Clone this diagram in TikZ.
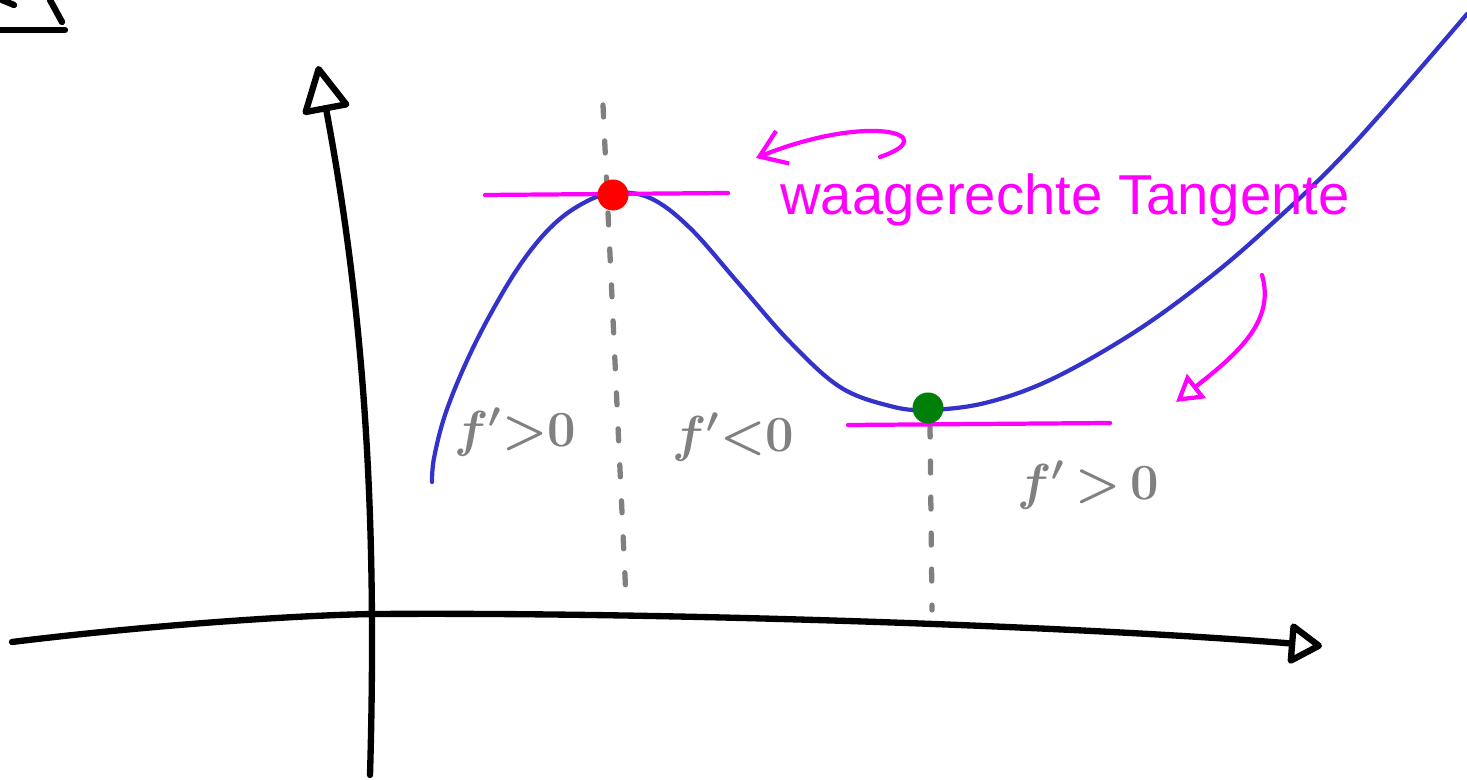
\documentclass[tikz,border=0pt]{standalone}
\usepackage{fontspec}
\usetikzlibrary{arrows.meta,calc,positioning}
\newfontfamily\notefont{Liberation Sans}
\definecolor{SketchInk}{HTML}{000000}
\definecolor{CurveBlue}{HTML}{3333CC}
\definecolor{NoteMagenta}{HTML}{FF00FF}
\definecolor{HelpGray}{HTML}{808080}
\definecolor{MaxRed}{HTML}{FF0000}
\definecolor{MinGreen}{HTML}{00800A}
\tikzset{
  axis/.style={draw=SketchInk, line width=1.8pt, line cap=round, line join=round,
    -{Triangle[open, length=3.6mm, width=4.4mm, round]}},
  graph/.style={draw=CurveBlue, line width=1.2pt, line cap=round},
  tangent/.style={draw=NoteMagenta, line width=1.2pt, line cap=round},
  helper/.style={draw=HelpGray, line width=1.5pt, line cap=round, dash pattern=on 0.12cm off 0.24cm},
  hint/.style={draw=NoteMagenta, line width=1.2pt, line cap=round},
  signlabel/.style={text=HelpGray, font=\fontsize{14}{17}\selectfont\boldmath},
  extremum/.style={circle, inner sep=0pt, minimum size=0.31cm},
}

\begin{document}
\begin{tikzpicture}[x=0.01cm,y=-0.01cm]
  \useasboundingbox (0,0) rectangle (1467,780);
  % cut-off sketch in the corner
  \draw[SketchInk, line width=1.8pt, line cap=round] (0,30) -- (65,30);
  \draw[SketchInk, line width=1.8pt, line cap=round] (50,0) -- (62,22);
  \draw[SketchInk, line width=1.8pt, line cap=round] (2,0) -- (14,5);
  % axes
  \coordinate (origin) at (375,614);
  \coordinate (xstart) at (12,642);
  \coordinate (xend) at (1322,646);
  \coordinate (ystart) at (370,775);
  \coordinate (yend) at (318,66);
  \draw[axis] (xstart) .. controls (150,625) and (300,615) .. (origin)
    .. controls (700,612) and (1100,628) .. (xend);
  \draw[axis, -{Triangle[open, length=5mm, width=5mm, round]}] (ystart) .. controls (378,500) and (362,300) .. (yend);
  % graph of f
  \draw[graph] plot[smooth, tension=0.6] coordinates {
    (432,482) (434,458) (445,415) (465,365) (490,315) (520,265) (550,228) (580,205)
    (612,193) (650,198) (690,228) (740,285) (790,342) (840,387) (890,406)
    (928,410) (985,403) (1050,380) (1130,335) (1200,285) (1265,230)
    (1350,148) (1467,14)};
  % extreme points
  \coordinate (maxtop) at (603,105);
  \coordinate (maxbot) at (626,598);
  \coordinate (mintop) at (930,425);
  \coordinate (minbot) at (932,610);
  \draw[helper] (maxtop) -- (maxbot);
  \draw[helper] (mintop) -- (minbot);
  \draw[tangent] (485,195) -- (728,193);
  \draw[tangent] (848,425) -- (1110,423);
  \node[extremum, fill=MaxRed] (maxdot) at (613,195) {};
  \node[extremum, fill=MinGreen] (mindot) at (928,408) {};
  % signs of f'
  \node[signlabel] (incleft) at (515,432) {$f'{>}0$};
  \node[signlabel] (decmid) at (733,437) {$f'{<}0$};
  \node[signlabel] (incright) at (1088,485) {$f'\,{>}\,0$};
  % note with arrows
  \node[text=NoteMagenta, font=\notefont\fontsize{16}{19}\selectfont] (tangtext) at (1065,200) {waagerechte Tangente};
  \coordinate (hookA) at (880,157);
  \coordinate (tipA) at (756,158);
  \coordinate (hookB) at (1262,275);
  \coordinate (tipB) at (1176,402);
  \draw[hint, -{Straight Barb[length=2.5mm, width=3.5mm]}] (hookA) .. controls (945,135) and (870,112) .. (tipA);
  \draw[hint, -{Triangle[open, length=2.6mm, width=3mm]}] (hookB) .. controls (1275,320) and (1240,352) .. (tipB);
\end{tikzpicture}
\end{document}
